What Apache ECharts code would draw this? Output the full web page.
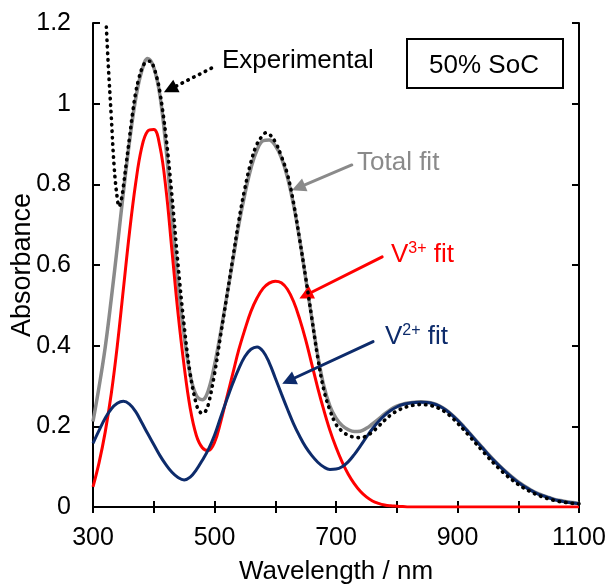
<!DOCTYPE html>
<html>
<head>
<meta charset="utf-8">
<script src="https://cdn.jsdelivr.net/npm/echarts@6/dist/echarts.min.js"></script>
<style>
html,body{margin:0;padding:0;background:#fff;}
#chart{width:611px;height:588px;}
</style>
</head>
<body>
<div id="chart"></div>
<script>
// ---- data ----
const wavelength = [300,310,320,330,340,350,360,370,380,390,400,410,420,430,440,450,460,470,480,490,500,510,520,530,540,550,560,570,580,590,600,610,620,630,640,650,660,670,680,690,700,710,720,730,740,750,760,770,780,790,800,810,820,830,840,850,860,870,880,890,900,910,920,930,940,950,960,970,980,990,1000,1010,1020,1030,1040,1050,1060,1070,1080,1090,1100];

const v3Fit = [0.05,0.11,0.185,0.28,0.40,0.54,0.68,0.80,0.89,0.932,0.936,0.895,0.79,0.635,0.48,0.35,0.245,0.178,0.147,0.14,0.16,0.21,0.27,0.33,0.39,0.44,0.485,0.518,0.542,0.555,0.56,0.556,0.54,0.51,0.467,0.415,0.355,0.295,0.24,0.19,0.148,0.112,0.082,0.058,0.039,0.025,0.015,0.009,0.005,0.003,0.002,0.001,0,0,0,0,0,0,0,0,0,0,0,0,0,0,0,0,0,0,0,0,0,0,0,0,0,0,0,0,0];

const v2Fit = [0.158,0.19,0.22,0.243,0.257,0.262,0.255,0.237,0.21,0.182,0.155,0.128,0.105,0.086,0.073,0.067,0.074,0.092,0.116,0.143,0.178,0.222,0.265,0.306,0.343,0.373,0.391,0.397,0.386,0.358,0.32,0.281,0.243,0.207,0.176,0.149,0.128,0.111,0.099,0.093,0.094,0.1,0.112,0.13,0.151,0.173,0.194,0.212,0.227,0.239,0.248,0.254,0.257,0.259,0.26,0.259,0.256,0.25,0.241,0.229,0.215,0.199,0.182,0.165,0.148,0.131,0.115,0.1,0.086,0.073,0.061,0.051,0.042,0.034,0.028,0.023,0.018,0.015,0.012,0.01,0.008];

const totalFit = [0.212,0.298,0.395,0.515,0.645,0.78,0.905,1.01,1.08,1.112,1.09,1.022,0.893,0.72,0.555,0.425,0.328,0.277,0.266,0.29,0.352,0.432,0.52,0.61,0.7,0.776,0.84,0.885,0.908,0.91,0.896,0.866,0.818,0.75,0.665,0.568,0.47,0.375,0.3,0.25,0.22,0.202,0.192,0.187,0.188,0.195,0.206,0.218,0.231,0.242,0.25,0.255,0.258,0.26,0.261,0.26,0.257,0.251,0.242,0.23,0.216,0.2,0.183,0.166,0.149,0.132,0.116,0.101,0.087,0.074,0.062,0.052,0.043,0.035,0.029,0.024,0.019,0.016,0.013,0.011,0.009];

const expWavelength = [322,325,330,335,340,343,347,350,355,360,365,370,375,380,385,390,395,400,405,410,420,430,440,450,460,470,475,480,485,490,500,510,520,530,540,550,560,570,580,585,590,600,610,620,630,640,650,660,670,680,690,700,710,720,730,740,750,760,770,780,790,800,810,820,830,840,850,860,870,880,890,900,910,920,930,940,950,960,970,980,990,1000,1010,1020,1030,1040,1050,1060,1070,1080,1090,1100];
const experimental = [1.19,1.10,0.97,0.84,0.765,0.745,0.765,0.795,0.855,0.915,0.975,1.025,1.06,1.085,1.10,1.105,1.105,1.09,1.065,1.03,0.92,0.77,0.60,0.45,0.33,0.255,0.238,0.232,0.237,0.255,0.33,0.425,0.52,0.615,0.71,0.79,0.855,0.9,0.922,0.928,0.925,0.905,0.87,0.825,0.755,0.665,0.57,0.47,0.37,0.29,0.24,0.205,0.188,0.178,0.173,0.172,0.176,0.186,0.2,0.215,0.228,0.238,0.245,0.25,0.253,0.254,0.253,0.25,0.244,0.235,0.223,0.208,0.192,0.175,0.158,0.141,0.124,0.108,0.093,0.079,0.067,0.056,0.046,0.038,0.031,0.025,0.02,0.016,0.013,0.011,0.009,0.008];

const xTicks = [300,500,700,900,1100];
const yTicks = [0,0.2,0.4,0.6,0.8,1,1.2];

// annotation arrows (data coordinates: [start], [end])
const arrowExperimental = [[495,1.088],[427,1.036]];
const arrowTotal = [[726,0.848],[638,0.792]];
const arrowV3 = [[776,0.62],[650,0.525]];
const arrowV2 = [[761,0.41],[622,0.313]];

// ---- chart ----
const FONT = "'Liberation Sans', Arial, Helvetica, sans-serif";
const C_GRAY = '#8a8a8a', C_RED = '#ff0000', C_NAVY = '#0d2b6b', C_BLACK = '#000';

function zip(xs, ys){ return xs.map((x,i)=>[x, ys[i]]); }
function arrow(a, color, width, type){
  return {
    silent: true, animation: false,
    symbol: ['none','triangle'], symbolSize: 14,
    label: {show:false},
    lineStyle: {color: color, width: width, type: type, cap: 'round'},
    data: [[{coord: a[0]}, {coord: a[1]}]]
  };
}

const chart = echarts.init(document.getElementById('chart'), null, {renderer:'canvas'});
const axisCommon = {
  type: 'value',
  axisLine: {show: true, lineStyle: {color: '#000', width: 2}},
  splitLine: {show: false},
};
const plain = v => String(v);
chart.setOption({
  animation: false,
  backgroundColor: '#fff',
  textStyle: {fontFamily: FONT},
  grid: {left: 93, right: 32, top: 23, bottom: 81, containLabel: false, outerBoundsMode: 'none'},
  xAxis: [
    Object.assign({}, axisCommon, {
      min: xTicks[0], max: xTicks[xTicks.length-1], interval: xTicks[1]-xTicks[0],
      position: 'bottom',
      name: 'Wavelength / nm', nameLocation: 'middle', nameGap: 52, nameMoveOverlap: false,
      nameTextStyle: {fontSize: 26, color: '#000', fontFamily: FONT},
      axisTick: {show: true, inside: true, length: 6, lineStyle: {color:'#000', width: 2}},
      minorTick: {show: true, splitNumber: 2, length: 6, lineStyle: {color:'#000', width: 2}},
      axisLabel: {fontSize: 25, color: '#000', margin: 19, fontFamily: FONT, formatter: plain}
    }),
    Object.assign({}, axisCommon, {
      min: xTicks[0], max: xTicks[xTicks.length-1], interval: xTicks[1]-xTicks[0],
      position: 'top',
      axisTick: {show: true, inside: true, length: 6, lineStyle: {color:'#000', width: 2}},
      minorTick: {show: true, splitNumber: 2, length: 6, lineStyle: {color:'#000', width: 2}},
      axisLabel: {show: false}
    })
  ],
  yAxis: [
    Object.assign({}, axisCommon, {
      min: yTicks[0], max: yTicks[yTicks.length-1], interval: yTicks[1]-yTicks[0],
      position: 'left',
      name: 'Absorbance', nameLocation: 'middle', nameGap: 57, nameRotate: 90, nameMoveOverlap: false,
      nameTextStyle: {fontSize: 27, color: '#000', fontFamily: FONT},
      axisTick: {show: true, inside: true, length: 7, lineStyle: {color:'#000', width: 2}},
      axisLabel: {fontSize: 25, color: '#000', margin: 22, fontFamily: FONT, formatter: plain}
    }),
    Object.assign({}, axisCommon, {
      min: yTicks[0], max: yTicks[yTicks.length-1], interval: yTicks[1]-yTicks[0],
      position: 'right',
      axisTick: {show: true, inside: true, length: 7, lineStyle: {color:'#000', width: 2}},
      axisLabel: {show: false}
    })
  ],
  series: [
    {
      name: 'Total fit', type: 'line', data: zip(wavelength, totalFit),
      showSymbol: false, smooth: 0.4, z: 2,
      lineStyle: {color: C_GRAY, width: 3.5},
      markLine: arrow(arrowTotal, C_GRAY, 3, 'solid')
    },
    {
      name: 'V3+ fit', type: 'line', data: zip(wavelength, v3Fit),
      showSymbol: false, smooth: 0.4, z: 3,
      lineStyle: {color: C_RED, width: 3},
      markLine: arrow(arrowV3, C_RED, 3, 'solid')
    },
    {
      name: 'V2+ fit', type: 'line', data: zip(wavelength, v2Fit),
      showSymbol: false, smooth: 0.4, z: 4,
      lineStyle: {color: C_NAVY, width: 3},
      markLine: arrow(arrowV2, C_NAVY, 3, 'solid')
    },
    {
      name: 'Experimental', type: 'line', data: zip(expWavelength, experimental),
      showSymbol: false, smooth: 0.4, z: 5,
      lineStyle: {color: C_BLACK, width: 3.6, type: [0.5, 6], cap: 'round'},
      markLine: arrow(arrowExperimental, C_BLACK, 3.6, [0.5, 6])
    }
  ],
  graphic: [
    {type:'text', z: 10, x: 222, y: 61,
     style:{text:'Experimental', fill:'#000', font: '26px ' + FONT, textVerticalAlign:'middle'}},
    {type:'rect', shape:{x:407, y:39, width:156, height:49}, z: 10,
     style:{fill:'#fff', stroke:'#000', lineWidth:2}},
    {type:'text', z: 11, x: 484, y: 66,
     style:{text:'50% SoC', fill:'#000', font:'26px ' + FONT, textAlign:'center', textVerticalAlign:'middle'}},
    {type:'text', z: 10, x: 357, y: 163,
     style:{text:'Total fit', fill: C_GRAY, font:'26px ' + FONT, textVerticalAlign:'middle'}},
    {type:'text', z: 10, x: 391, y: 255,
     style:{text:'{a|V}{b|3+}{a| fit}', fill: C_RED, textVerticalAlign:'middle',
       rich:{a:{fontSize:26, fontFamily:FONT, color:C_RED, lineHeight:28},
             b:{fontSize:16, fontFamily:FONT, color:C_RED, verticalAlign:'top', lineHeight:28}}}},
    {type:'text', z: 10, x: 385, y: 337,
     style:{text:'{a|V}{b|2+}{a| fit}', fill: C_NAVY, textVerticalAlign:'middle',
       rich:{a:{fontSize:26, fontFamily:FONT, color:C_NAVY, lineHeight:28},
             b:{fontSize:16, fontFamily:FONT, color:C_NAVY, verticalAlign:'top', lineHeight:28}}}}
  ]
});
</script>
</body>
</html>
